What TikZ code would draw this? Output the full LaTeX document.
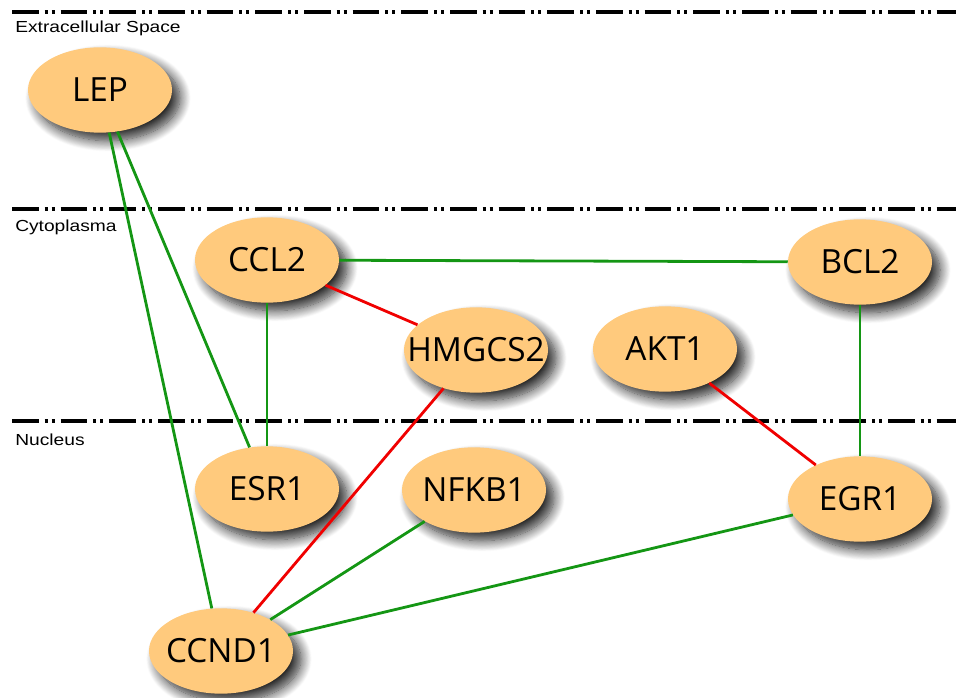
\documentclass[tikz,border=0pt]{standalone}
\usepackage{fontspec}
\setmainfont{Open Sans}
\newfontfamily\regionfont[FakeStretch=1.2]{Liberation Sans}
\usetikzlibrary{shapes.geometric,shadows.blur}
\definecolor{genefill}{RGB}{255,202,125}
\definecolor{actgreen}{RGB}{20,150,20}
\definecolor{inhred}{RGB}{240,0,0}

\begin{document}
\begin{tikzpicture}[x=0.75pt, y=-0.75pt,
  gene/.style={ellipse, fill=genefill, minimum width=108pt, minimum height=64pt, inner sep=0pt,
    font=\fontsize{25}{25}\selectfont,
    blur shadow={shadow xshift=6pt, shadow yshift=-6pt, shadow blur radius=8pt,
      shadow blur steps=14, shadow opacity=85},
    execute at begin node={\hbox to 0pt\bgroup\hss}, execute at end node={\hss\egroup}},
  act/.style={draw=actgreen, line width=2.1pt},
  inh/.style={draw=inhred, line width=2.1pt},
  membrane/.style={line width=3pt, dash pattern=on 20pt off 4.5pt on 2.25pt off 3pt on 2.25pt off 4.5pt},
  region/.style={anchor=base west, inner sep=0pt, font=\regionfont\fontsize{12}{12}\selectfont}]
  \useasboundingbox (0,0) rectangle (956,698);

  % compartments
  \coordinate (m1a) at (12,12);   \coordinate (m1b) at (956,12);
  \coordinate (m2a) at (12,209);  \coordinate (m2b) at (956,209);
  \coordinate (m3a) at (12,421);  \coordinate (m3b) at (956,421);
  \draw[membrane] (m1a) -- (m1b);
  \draw[membrane] (m2a) -- (m2b);
  \draw[membrane] (m3a) -- (m3b);
  \node[region] (extra) at (15,33) {Extracellular Space};
  \node[region] (cyto) at (15,232) {Cytoplasma};
  \node[region] (nucl) at (15,445) {Nucleus};

  % genes
  \node[gene] (lep) at (100,90) {LEP};
  \node[gene] (ccl2) at (267,260) {CCL2};
  \node[gene] (bcl2) at (860,262) {BCL2};
  \node[gene] (hmgcs2) at (476,350) {HMGCS2};
  \node[gene] (akt1) at (665,349) {AKT1};
  \node[gene] (esr1) at (267,489) {ESR1};
  \node[gene] (nfkb1) at (474,490) {NFKB1};
  \node[gene] (egr1) at (860,499) {EGR1};
  \node[gene] (ccnd1) at (221,651) {CCND1};

  % interactions
  \draw[act] (lep) -- (esr1);
  \draw[act] (lep) -- (ccnd1);
  \draw[act] (ccl2) -- (bcl2);
  \draw[act] (ccl2) -- (esr1);
  \draw[inh] (ccl2) -- (hmgcs2);
  \draw[inh] (hmgcs2) -- (ccnd1);
  \draw[inh] (akt1) -- (egr1);
  \draw[act] (bcl2) -- (egr1);
  \draw[act] (nfkb1) -- (ccnd1);
  \draw[act] (egr1) -- (ccnd1);
\end{tikzpicture}
\end{document}
